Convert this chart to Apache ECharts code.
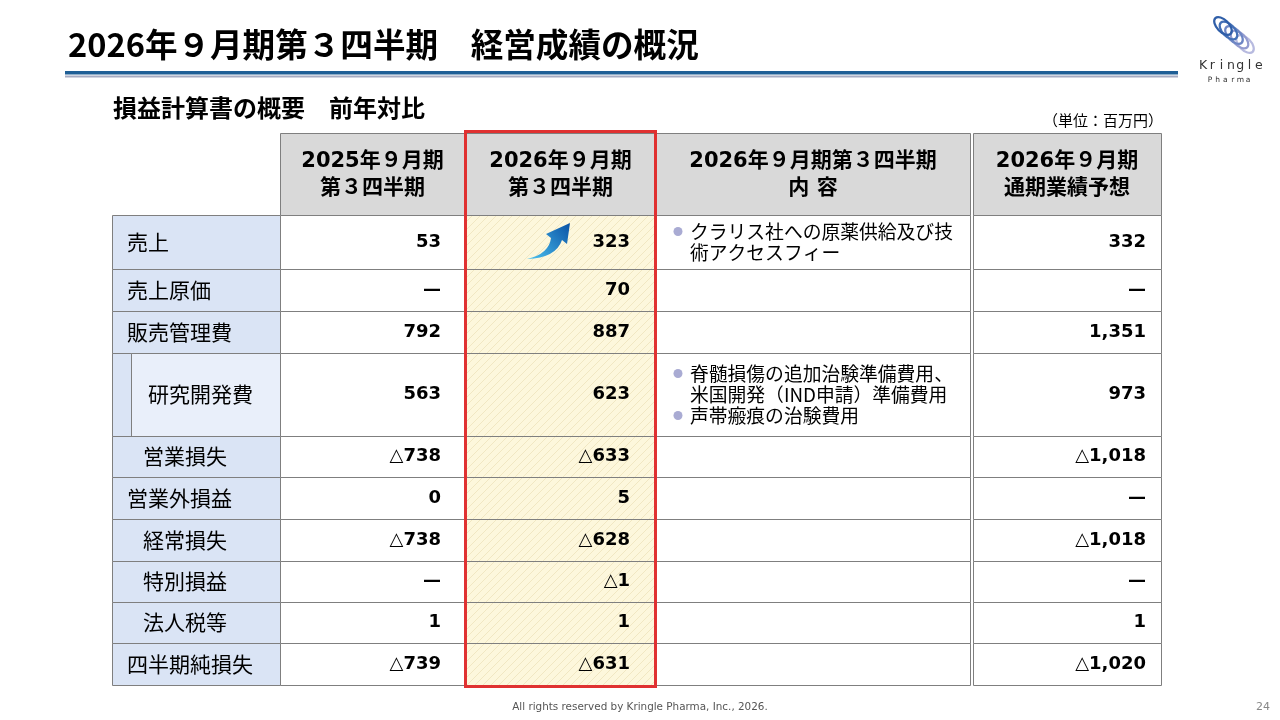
<!DOCTYPE html>
<html>
<head>
<meta charset="utf-8">
<script src="https://cdn.jsdelivr.net/npm/echarts@6/dist/echarts.min.js"></script>
<style>
  html, body { margin: 0; padding: 0; background: #fff; }
  #main { width: 1280px; height: 720px; }
</style>
</head>
<body>
<div id="main"></div>
<script>
// table contents (単位：百万円)
var headerLabels = ['2025年９月期\n第３四半期', '2026年９月期\n第３四半期', '2026年９月期第３四半期\n内 容', '2026年９月期\n通期業績予想'];
var rowLabels = ['売上', '売上原価', '販売管理費', '研究開発費', '営業損失', '営業外損益', '経常損失', '特別損益', '法人税等', '四半期純損失'];
var prevQ3 = ['53', '—', '792', '563', '△738', '0', '△738', '—', '1', '△739'];
var currQ3 = ['323', '70', '887', '623', '△633', '5', '△628', '△1', '1', '△631'];
var forecast = ['332', '—', '1,351', '973', '△1,018', '—', '△1,018', '—', '1', '△1,020'];
var notes = [
  [['クラリス社への原薬供給及び技', '術アクセスフィー']],
  [], [],
  [['脊髄損傷の追加治験準備費用、', '米国開発（IND申請）準備費用'], ['声帯瘢痕の治験費用']],
  [], [], [], [], [], []
];

// layout (page pixels)
var colLabel = [112, 280], colPrev = [280, 465], colCurr = [465, 656], colNote = [656, 970], colFc = [973, 1161];
var headerY = [133, 215];
var rowY = [215, 269, 311, 353, 436, 477, 519, 561, 602, 643, 685];
var labelIndent = [15, 15, 15, 36, 31, 15, 31, 31, 31, 15];

var BORDER = '#7f7f7f';
var JP = "'Noto Sans CJK JP'";
var NUM = "'DejaVu Sans', 'Noto Sans CJK JP'";

// light yellow hatch for the current-quarter column
var hatch = document.createElement('canvas');
hatch.width = 8; hatch.height = 8;
var hc = hatch.getContext('2d');
hc.fillStyle = '#fdf7dc';
hc.fillRect(0, 0, 8, 8);
hc.strokeStyle = '#f1e7c2';
hc.lineWidth = 1;
hc.beginPath();
hc.moveTo(0, 8); hc.lineTo(8, 0);
hc.moveTo(-4, 4); hc.lineTo(4, -4);
hc.moveTo(4, 12); hc.lineTo(12, 4);
hc.stroke();
var hatchFill = { image: hatch, repeat: 'repeat' };

function box(api, x0, y0, x1, y1, fill) {
  var a = api.coord([x0, y0]), b = api.coord([x1, y1]);
  return {
    type: 'rect',
    shape: { x: a[0] + 0.5, y: a[1] + 0.5, width: b[0] - a[0], height: b[1] - a[1] },
    style: { fill: fill, stroke: BORDER, lineWidth: 1 }
  };
}

function valueText(api, s, xRight, yMid) {
  var p = api.coord([xRight, yMid]);
  var txt = s.charAt(0) === '△' ? '{t|△}{n|' + s.slice(1) + '}' : '{n|' + s + '}';
  return {
    type: 'text',
    style: {
      text: txt, x: p[0], y: p[1], align: 'right', verticalAlign: 'middle',
      rich: {
        t: { fontFamily: NUM, fontSize: 18, fill: '#000' },
        n: { fontFamily: NUM, fontSize: 18, fontWeight: 'bold', fill: '#000' }
      }
    }
  };
}

function renderHeader(params, api) {
  var cols = [colPrev, colCurr, colNote, colFc];
  var kids = [];
  cols.forEach(function (c, j) {
    kids.push(box(api, c[0], headerY[0], c[1], headerY[1], '#d9d9d9'));
    var p = api.coord([(c[0] + c[1]) / 2, (headerY[0] + headerY[1]) / 2 + 1]);
    kids.push({
      type: 'text',
      style: {
        text: headerLabels[j], x: p[0], y: p[1], align: 'center', verticalAlign: 'middle',
        fontFamily: NUM, fontSize: 21, fontWeight: 'bold', lineHeight: 27, fill: '#000'
      }
    });
  });
  return { type: 'group', children: kids };
}

function renderRow(params, api) {
  var i = api.value(0);
  var y0 = rowY[i], y1 = rowY[i + 1], ym = (y0 + y1) / 2;
  var kids = [];
  kids.push(box(api, colLabel[0], y0, colLabel[1], y1, '#dae4f5'));
  if (i === 3) {
    kids.push(box(api, colLabel[0] + 19, y0, colLabel[1], y1, '#e9effa'));
  }
  kids.push(box(api, colPrev[0], y0, colPrev[1], y1, '#fff'));
  kids.push(box(api, colCurr[0], y0, colCurr[1], y1, hatchFill));
  kids.push(box(api, colNote[0], y0, colNote[1], y1, '#fff'));
  kids.push(box(api, colFc[0], y0, colFc[1], y1, '#fff'));

  var lp = api.coord([colLabel[0] + labelIndent[i], ym]);
  kids.push({
    type: 'text',
    style: { text: rowLabels[i], x: lp[0], y: lp[1], align: 'left', verticalAlign: 'middle',
      fontFamily: JP, fontSize: 21, fill: '#000' }
  });
  kids.push(valueText(api, prevQ3[i], colPrev[1] - 24, ym));
  kids.push(valueText(api, currQ3[i], colCurr[1] - 26, ym));
  kids.push(valueText(api, forecast[i], colFc[1] - 15, ym));

  // bullet notes
  var lines = [];
  notes[i].forEach(function (item) {
    item.forEach(function (t, k) { lines.push({ t: t, bullet: k === 0 }); });
  });
  var lh = 21;
  var top = ym - (lines.length - 1) * lh / 2;
  lines.forEach(function (ln, k) {
    var yy = top + k * lh;
    if (ln.bullet) {
      var b = api.coord([colNote[0] + 22, yy]);
      kids.push({ type: 'circle', shape: { cx: b[0], cy: b[1], r: 4.5 }, style: { fill: '#a9abd3' } });
    }
    var tp = api.coord([colNote[0] + 34, yy]);
    kids.push({
      type: 'text',
      style: { text: ln.t, x: tp[0], y: tp[1], align: 'left', verticalAlign: 'middle',
        fontFamily: JP, fontSize: 18.8, fill: '#000' }
    });
  });
  return { type: 'group', children: kids };
}

// decorations: up arrow in the 売上 cell and the logo coil
var coilColors = ['#2f5ea8', '#4470b6', '#6d86c4', '#939bcf', '#b7badf'];
function renderDeco(params, api) {
  var kids = [];
  kids.push({
    type: 'path',
    shape: { pathData: 'M527 259 Q549 254 551 238 L546 234 L570 223 L567 244 L562 240 Q556 258 527 259 Z' },
    style: { fill: { type: 'linear', x: 0, y: 1, x2: 1, y2: 0, colorStops: [{ offset: 0, color: '#4cc3f0' }, { offset: 1, color: '#0a52a5' }] } }
  });
  for (var k = 4; k >= 0; k--) {
    var cx = 1223 + k * 5.5, cy = 26 + k * 4.5, rx = 11, ry = 6;
    kids.push({
      type: 'path',
      shape: { pathData: 'M' + (cx - rx) + ' ' + cy + ' A' + rx + ' ' + ry + ' 0 1 0 ' + (cx + rx) + ' ' + cy + ' A' + rx + ' ' + ry + ' 0 1 0 ' + (cx - rx) + ' ' + cy + ' Z' },
      rotation: -0.8,
      originX: cx, originY: cy,
      style: { fill: 'none', stroke: coilColors[k], lineWidth: 2.2 }
    });
  }
  return { type: 'group', children: kids };
}

var logoText = [];
'Kringle'.split('').forEach(function (c, j) {
  logoText.push({ type: 'text', x: 1203 + j * 9.3, y: 66, style: { text: c, fontFamily: 'DejaVu Sans', fontSize: 12.5, fill: '#333', align: 'center', verticalAlign: 'middle' } });
});
'Pharma'.split('').forEach(function (c, j) {
  logoText.push({ type: 'text', x: 1210 + j * 7.6, y: 80, style: { text: c, fontFamily: 'DejaVu Sans', fontSize: 7.5, fill: '#333', align: 'center', verticalAlign: 'middle' } });
});

var chart = echarts.init(document.getElementById('main'));
chart.setOption({
  animation: false,
  backgroundColor: '#fff',
  grid: { left: 0, right: 0, top: 0, bottom: 0 },
  xAxis: { type: 'value', min: 0, max: 1280, show: false },
  yAxis: { type: 'value', min: 0, max: 720, inverse: true, show: false },
  series: [
    { type: 'custom', silent: true, clip: false, renderItem: renderHeader, data: [[0]] },
    { type: 'custom', silent: true, clip: false, renderItem: renderRow, data: rowLabels.map(function (_, i) { return [i]; }) },
    { type: 'custom', silent: true, clip: false, z: 5, renderItem: renderDeco, data: [[0]] }
  ],
  graphic: [
    { type: 'text', x: 68, y: 45, style: { text: '2026年９月期第３四半期　経営成績の概況', fontFamily: JP, fontSize: 32.6, fontWeight: 'bold', fill: '#000', verticalAlign: 'middle' } },
    { type: 'rect', shape: { x: 65, y: 71, width: 1113, height: 3.5 }, style: { fill: '#1f5f96' } },
    { type: 'rect', shape: { x: 65, y: 75.5, width: 1113, height: 2 }, style: { fill: '#a6abc2' } },
    { type: 'text', x: 113, y: 108, style: { text: '損益計算書の概要　前年対比', fontFamily: JP, fontSize: 24, fontWeight: 'bold', fill: '#000', verticalAlign: 'middle' } },
    { type: 'text', x: 1163, y: 120, style: { text: '（単位：百万円）', fontFamily: JP, fontSize: 15, fill: '#000', align: 'right', verticalAlign: 'middle' } },
    // highlight frame
    { type: 'rect', z: 100, shape: { x: 465.5, y: 131.5, width: 190, height: 555 }, style: { fill: 'none', stroke: '#e03131', lineWidth: 3 } },
    { type: 'text', x: 640, y: 707, style: { text: 'All rights reserved by Kringle Pharma, Inc., 2026.', fontFamily: 'DejaVu Sans', fontSize: 10.4, fill: '#555', align: 'center', verticalAlign: 'middle' } },
    { type: 'text', x: 1263, y: 707, style: { text: '24', fontFamily: 'DejaVu Sans', fontSize: 11, fill: '#888', align: 'center', verticalAlign: 'middle' } }
  ].concat(logoText)
});
</script>
</body>
</html>
